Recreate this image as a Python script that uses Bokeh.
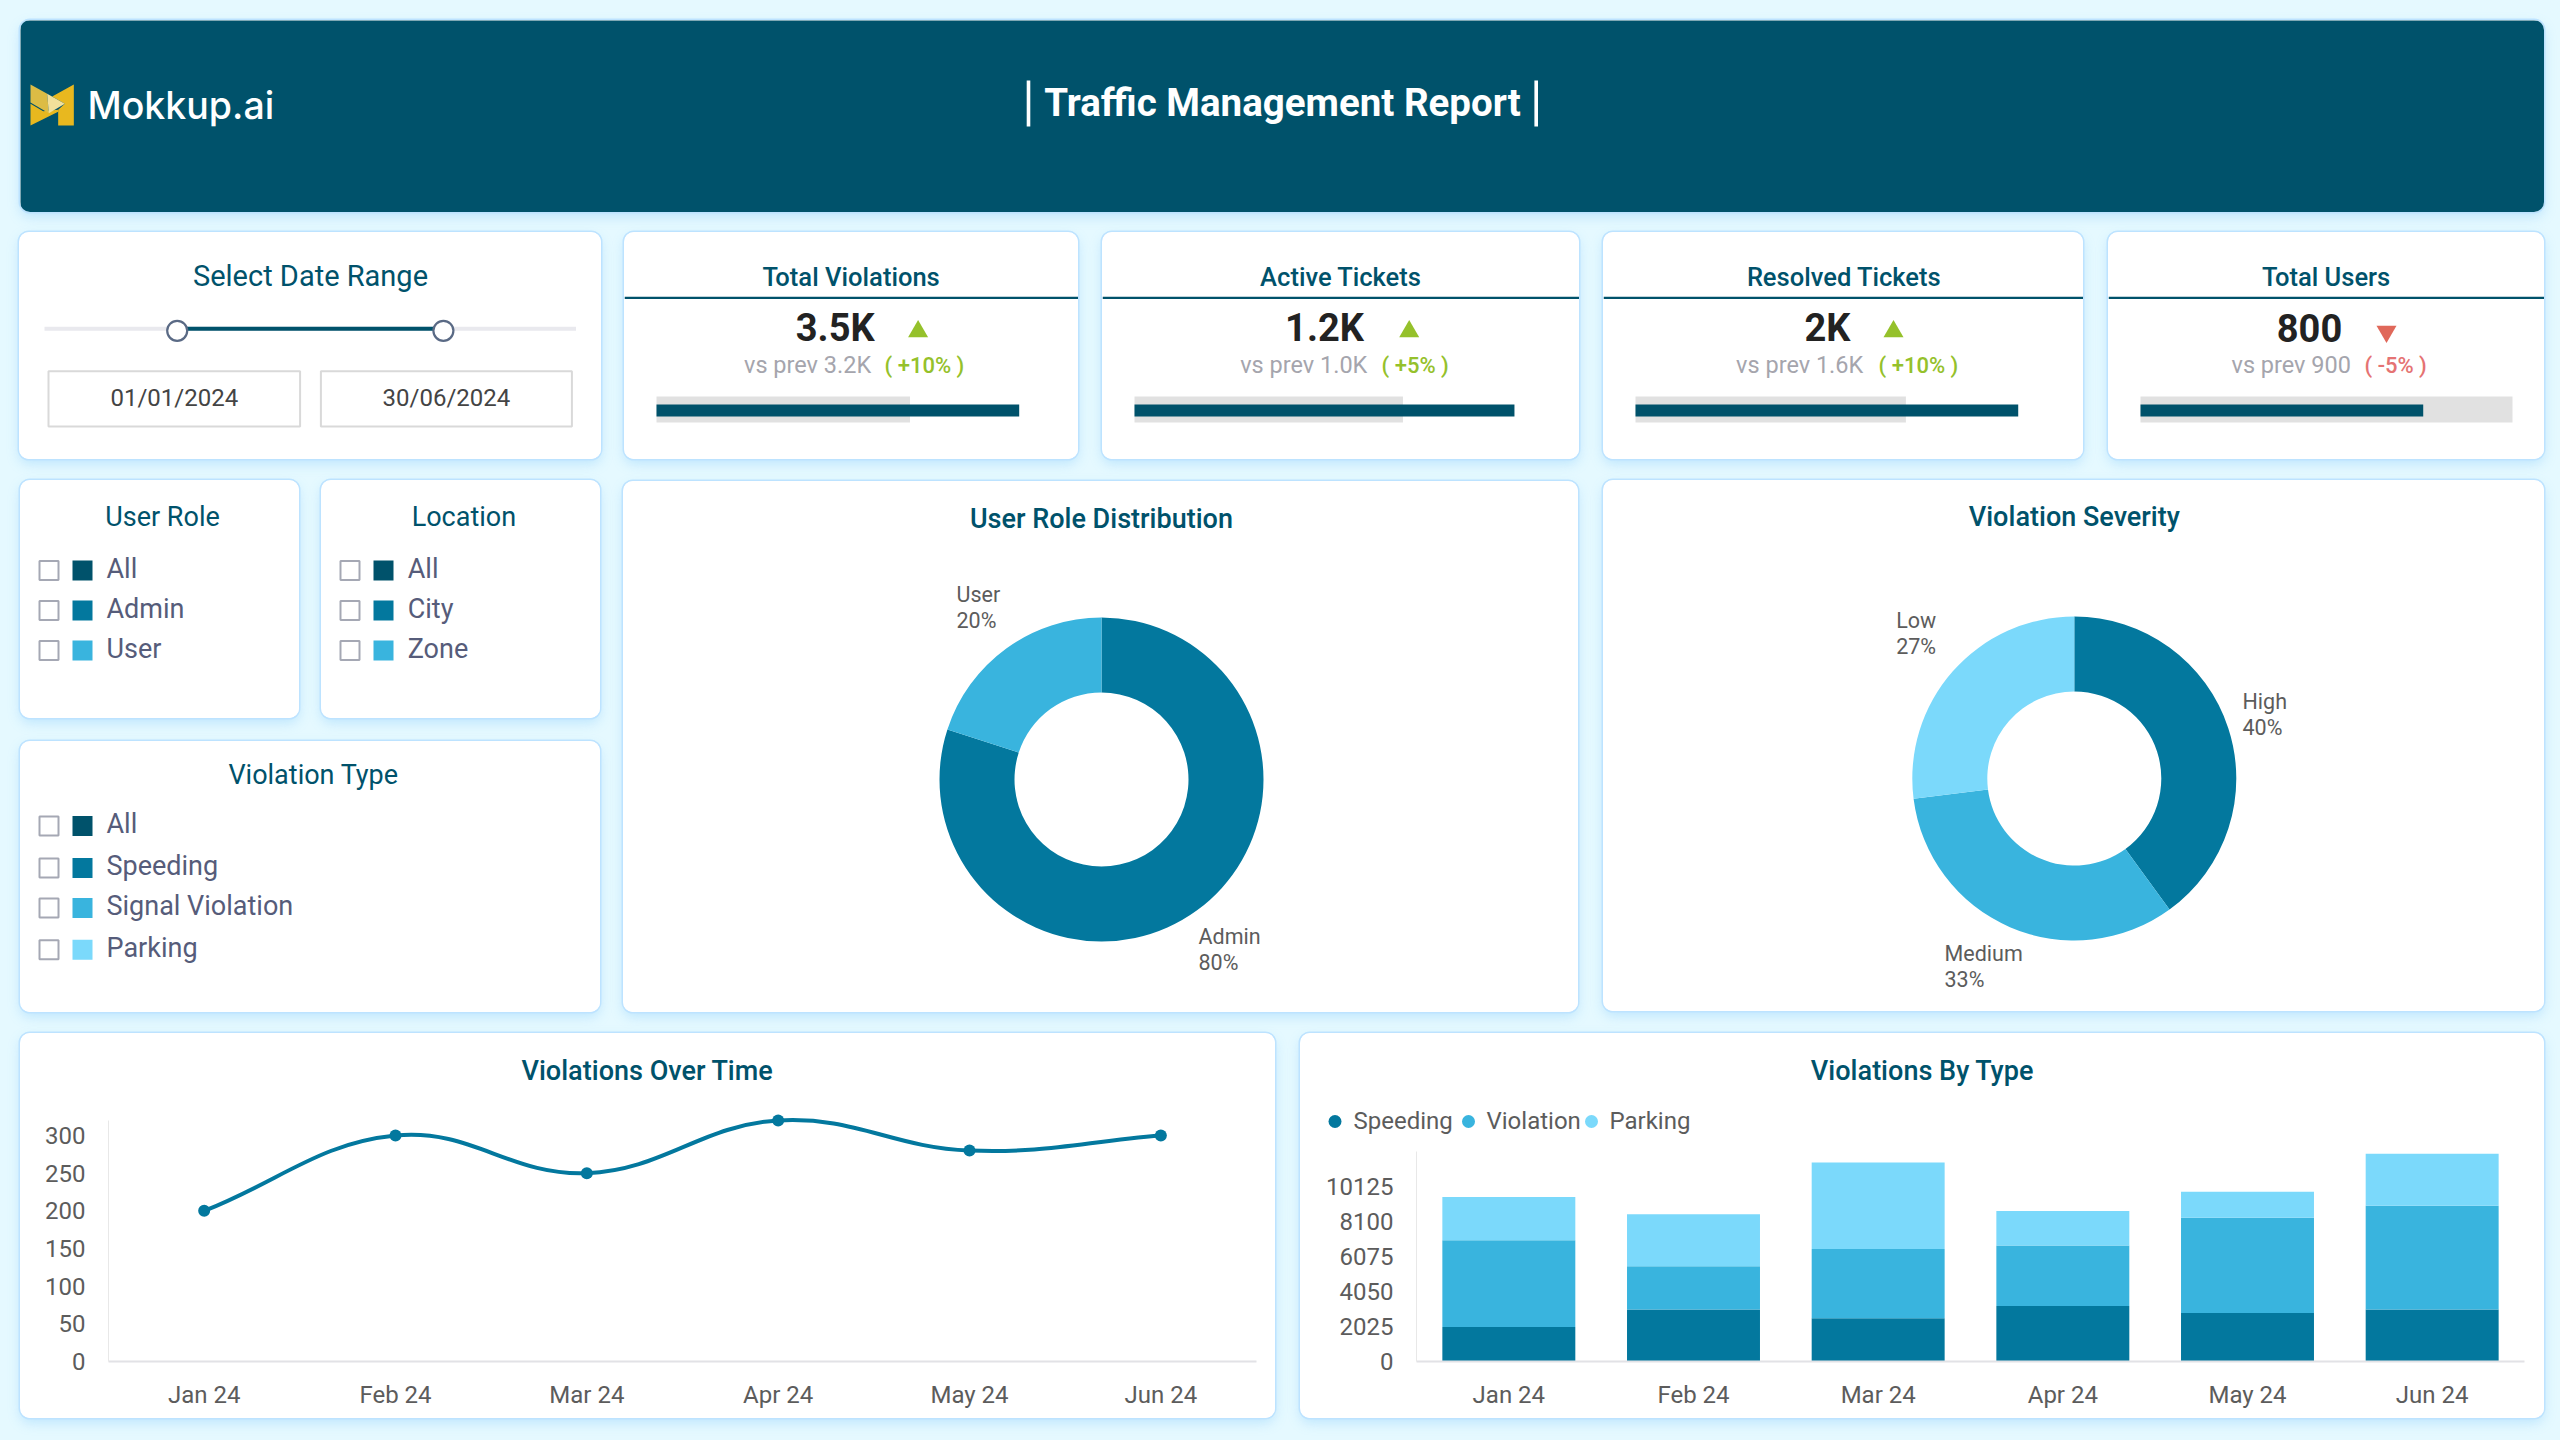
import numpy as np
from bokeh.embed import file_html
from bokeh.layouts import column, row
from bokeh.models import (CategoricalAxis, ColumnDataSource, FactorRange, FixedTicker, Label,
                          Range1d, LinearAxis)
from bokeh.plotting import figure
from bokeh.resources import INLINE

# ---------- data ----------
months = ["Jan 24", "Feb 24", "Mar 24", "Apr 24", "May 24", "Jun 24"]
violations_over_time = [200, 300, 250, 320, 280, 300]
over_time_ticks = [0, 50, 100, 150, 200, 250, 300]

speeding = [2000, 3000, 2500, 3200, 2800, 3000]
violation = [5000, 2500, 4000, 3500, 5500, 6000]
parking = [2500, 3000, 5000, 2000, 1500, 3000]
by_type_ticks = [0, 2025, 4050, 6075, 8100, 10125]
type_names = ["Speeding", "Violation", "Parking"]

role_names = ["Admin", "User"]
role_values = [80, 20]
severity_names = ["High", "Medium", "Low"]
severity_values = [40, 33, 27]

kpi_titles = ["Total Violations", "Active Tickets", "Resolved Tickets", "Total Users"]
kpi_values = ["3.5K", "1.2K", "2K", "800"]
kpi_prev_text = ["vs prev 3.2K", "vs prev 1.0K", "vs prev 1.6K", "vs prev 900"]
kpi_delta_text = ["( +10% )", "( +5% )", "( +10% )", "( -5% )"]
kpi_up = [True, True, True, False]
kpi_prev_bar = [65, 65, 65, 100]
kpi_now_bar = [93, 92, 92, 76]

filter_role = ["All", "Admin", "User"]
filter_location = ["All", "City", "Zone"]
filter_type = ["All", "Speeding", "Signal Violation", "Parking"]
date_from = "01/01/2024"
date_to = "30/06/2024"

# ---------- style ----------
DARK = "#00526b"
TEAL = "#03789e"
MID = "#39b4de"
LIGHT = "#7bd9fb"
PAGE = "#e5f9ff"
TITLE_FONT = "Roboto Medium"
FONT = "Roboto"
LABEL_COLOR = "#5c5c5c"
CARD = {"border-radius": "10px", "overflow": "hidden", "background-color": "white",
        "box-shadow": "0 0 0 1.5px #bde3ff, 0 5px 12px rgba(130,200,250,0.38)"}
BOXES = {}


def card(box, L=0, R=0, B=0, bg="white", x_range=None, y_range=None, styled=True):
    x0, y0, x1, y1 = box
    p = figure(width=x1 - x0, height=y1 - y0, output_backend="svg", toolbar_location=None,
               x_range=x_range if x_range is not None else Range1d(x0 + L, x1 - R),
               y_range=y_range if y_range is not None else Range1d(y1 - B, y0),
               x_axis_location=None, y_axis_location=None,
               min_border_left=L, min_border_right=R, min_border_top=0, min_border_bottom=B,
               background_fill_color=bg, border_fill_color=bg, outline_line_color=None,
               styles=dict(CARD) if styled else {})
    p.grid.visible = False
    if not isinstance(x_range, FactorRange):
        p.extra_x_ranges["px"] = Range1d(x0 + L, x1 - R)
        p.extra_y_ranges["px"] = Range1d(y1 - B, y0)
    BOXES[p.id] = box
    return p


def txt(p, x, y, s, size, color, align="left", font=FONT, style="normal"):
    p.add_layout(Label(x=x, y=y, text=s, x_range_name="px", y_range_name="px", text_font=font,
                       text_font_size=f"{size}px", text_color=color,
                       text_align=align, text_baseline="middle", text_font_style=style))


def box_(p, x0, y0, x1, y1, fill=None, line=None, lw=2):
    p.quad(left=[x0], right=[x1], top=[y0], bottom=[y1], x_range_name="px", y_range_name="px",
           fill_color=fill, line_color=line, line_width=lw, fill_alpha=1 if fill else 0)


# ---------- header ----------
header = card((20, 20, 2544, 212), bg=DARK)
lg = lambda pts: ([20 + a / 3 for a, _ in pts], [70 + b / 3 for _, b in pts])
for pts, col in [([(160, 42), (160, 165), (113, 165), (113, 118), (133, 100), (95, 78)], "#e8b81f"),
                 ([(30, 100), (68, 122), (113, 118), (113, 124), (30, 165)], "#e8b81f"),
                 ([(30, 42), (80, 70), (85, 128), (30, 96)], "#dcbc45"),
                 ([(80, 70), (133, 100), (85, 128)], "#f2e09a")]:
    xs, ys = lg(pts)
    header.patch(xs, ys, fill_color=col, line_color=None, x_range_name="px", y_range_name="px")
txt(header, 87, 105, "Mokkup.ai", 37.5, "white", font="Inter Medium")
txt(header, 1282, 102, "Traffic Management Report", 38.5, "white", "center", style="bold")
for bx in (1028, 1535.7):
    box_(header, bx - 1.8, 80, bx + 1.8, 126, fill="white")

# ---------- date range ----------
date_card = card((19, 232, 601, 459))
txt(date_card, 310, 275, "Select Date Range", 29, DARK, "center")
box_(date_card, 44, 326.3, 575.5, 330.3, fill="#e9e9ee")
box_(date_card, 186, 326.3, 434, 330.3, fill=DARK)
date_card.circle(x=[176.7, 442.9], y=[330.3, 330.3], radius=10, fill_color="white",
                 line_color="#5a6a85", line_width=2.2, x_range_name="px", y_range_name="px")
for bx0, bx1, s in [(48, 299.6, date_from), (320.4, 571.4, date_to)]:
    box_(date_card, bx0, 370.7, bx1, 426, line="#d9d9d9")
    txt(date_card, (bx0 + bx1) / 2, 397.5, s, 24, "#444444", "center")

# ---------- KPI cards ----------
kpi_boxes = [(624, 232, 1078, 459), (1102, 232, 1579, 459), (1603, 232, 2083, 459), (2108, 232, 2544, 459)]
kpi_layout = [  # title-x, value-x, tri-x, vs-x0, delta-x0
    (850.6, 834.7, 917.6, 743.5, 884),
    (1340.4, 1324, 1408.7, 1239.7, 1381),
    (1843.7, 1827, 1893, 1735.6, 1878),
    (2325.6, 2309, 2386, 2231, 2364),
]
kpi_cards = []
for i, bx in enumerate(kpi_boxes):
    x0, y0, x1, y1 = bx
    p = card(bx)
    tx, vx, trx, vsx, dx = kpi_layout[i]
    txt(p, tx, 276.5, kpi_titles[i], 25.5, DARK, "center", font=TITLE_FONT)
    box_(p, x0, 296.3, x1, 298.5, fill=DARK)
    txt(p, vx, 327, kpi_values[i], 38, "#222222", "center", style="bold")
    up = kpi_up[i]
    c = "#95c12b" if up else "#e0685a"
    p.scatter(x=[trx], y=[331], size=20, marker="triangle" if up else "inverted_triangle",
              fill_color=c, line_color=None, x_range_name="px", y_range_name="px")
    txt(p, vsx, 364.5, kpi_prev_text[i], 23.5, "#a5a5ad")
    txt(p, dx, 364.5, kpi_delta_text[i], 22, c if up else "#e57373", font=TITLE_FONT)
    left = x0 + 32
    track = (x1 - 32) - left
    p.extra_x_ranges["pct"] = Range1d((x0 - left) / track * 100, (x1 - left) / track * 100)
    p.hbar(y=[409], height=26, left=0, right=[kpi_prev_bar[i]], fill_color="#e1e1e1", line_color=None,
           x_range_name="pct", y_range_name="px")
    p.hbar(y=[410], height=12, left=0, right=[kpi_now_bar[i]], fill_color=DARK, line_color=None,
           x_range_name="pct", y_range_name="px")
    kpi_cards.append(p)


# ---------- filter cards ----------
def filter_card(box, title, title_x, title_y, options, rows, cbx, sqx, tx):
    p = card(box)
    txt(p, title_x, title_y, title, 27, DARK, "center")
    cols = [DARK, TEAL, MID, LIGHT]
    for opt, ry, c in zip(options, rows, cols):
        box_(p, cbx, ry - 9.5, cbx + 19, ry + 9.5, fill="white", line="#a5a8b4")
        box_(p, sqx, ry - 10, sqx + 20, ry + 10, fill=c)
        txt(p, tx - 0.8, ry - 1.6, opt, 27, "#565c7a")
    return p


role_card = filter_card((20, 480, 299, 718), "User Role", 162, 516.4, filter_role,
                        [570, 610, 650], 39, 72, 106.8)
loc_card = filter_card((321, 480, 600, 718), "Location", 463.4, 516.4, filter_location,
                       [570, 610, 650], 340, 373, 408)
type_card = filter_card((20, 741, 600, 1012), "Violation Type", 313, 774.6, filter_type,
                        [825.4, 867.5, 907.5, 949.3], 39, 72, 106.8)


# ---------- donuts ----------
def donut(box, title, cx, cy, names, values, colors, label_pos, title_y):
    p = card(box)
    txt(p, cx, title_y, title, 27, DARK, "center", font=TITLE_FONT)
    v = np.array(values, dtype=float)
    edges = np.pi / 2 - 2 * np.pi * np.concatenate([[0], np.cumsum(v)]) / v.sum()
    p.annular_wedge(x=[cx] * len(v), y=[cy] * len(v), inner_radius=87, outer_radius=162,
                    start_angle=edges[1:], end_angle=edges[:-1], fill_color=colors, line_color=None,
                    x_range_name="px", y_range_name="px")
    for name, val, (lx, ly) in zip(names, values, label_pos):
        txt(p, lx, ly, name, 21.5, LABEL_COLOR)
        txt(p, lx, ly + 26, f"{val}%", 21.5, LABEL_COLOR)
    return p


role_donut = donut((623, 481, 1578, 1012), "User Role Distribution", 1101, 779, role_names, role_values,
                   [TEAL, MID], [(1198, 936.4), (956, 594)], 518)
sev_donut = donut((1603, 480, 2544, 1011), "Violation Severity", 2073.8, 778, severity_names, severity_values,
                  [TEAL, MID, LIGHT], [(2242, 701), (1944, 953), (1895.7, 620)], 516.4)


def style_axes(p, ticks, bound_top):
    p.add_layout(CategoricalAxis(), "below")
    p.add_layout(LinearAxis(ticker=FixedTicker(ticks=ticks), bounds=(0, bound_top)), "left")
    for ax in list(p.xaxis) + list(p.yaxis):
        ax.major_tick_line_color = None
        ax.minor_tick_line_color = None
        ax.major_label_text_font = FONT
        ax.major_label_text_font_size = "24px"
        ax.major_label_text_color = LABEL_COLOR
    p.xaxis.axis_line_color = "#e2e2e6"
    p.xaxis.axis_line_width = 2
    p.xaxis.major_label_standoff = 13
    p.yaxis.axis_line_color = "#e8e8e8"
    p.yaxis.axis_line_width = 1
    p.yaxis.major_label_standoff = 17


# ---------- violations over time ----------
vot_head = card((20, 1033, 1275, 1101), styled=False)
txt(vot_head, 647, 1070, "Violations Over Time", 27, DARK, "center", font=TITLE_FONT)
y_top = 345.2
vot = card((20, 1101, 1275, 1418), L=88, R=19, B=57, styled=False,
           x_range=FactorRange(factors=months), y_range=Range1d(0, y_top))
style_axes(vot, over_time_ticks, 320)
pos = np.arange(len(months)) + 0.5
vals = np.array(violations_over_time, dtype=float)
tx_ = np.gradient(pos)
ty_ = np.concatenate([[vals[1] - vals[0]], (vals[2:] - vals[:-2]) / 2, [vals[-1] - vals[-2]]])
curve = ColumnDataSource(dict(x0=pos[:-1], y0=vals[:-1], x1=pos[1:], y1=vals[1:],
                              cx0=pos[:-1] + 0.4 * tx_[:-1], cy0=vals[:-1] + 0.4 * ty_[:-1],
                              cx1=pos[1:] - 0.4 * tx_[1:], cy1=vals[1:] - 0.4 * ty_[1:]))
vot.bezier(x0="x0", y0="y0", x1="x1", y1="y1", cx0="cx0", cy0="cy0", cx1="cx1", cy1="cy1",
           source=curve, line_color=TEAL, line_width=4)
vot.scatter(x=months, y=violations_over_time, size=12, fill_color=TEAL, line_color=None)

# ---------- violations by type ----------
bt_head = card((1300, 1033, 2544, 1140), styled=False)
txt(bt_head, 1922, 1070, "Violations By Type", 27, DARK, "center", font=TITLE_FONT)
for name, col, dot_x, text_x in zip(type_names, [TEAL, MID, LIGHT], (1334.5, 1468, 1591), (1353, 1486, 1609)):
    bt_head.scatter(x=[dot_x], y=[1121], size=13, marker="circle", fill_color=col, line_color=None,
                    x_range_name="px", y_range_name="px")
    txt(bt_head, text_x, 1120, name, 24, LABEL_COLOR)
bt = card((1300, 1140, 2544, 1418), L=116, R=20, B=57, styled=False,
          x_range=FactorRange(factors=months), y_range=Range1d(0, 12768))
style_axes(bt, by_type_ticks, 12150)
bt_src = ColumnDataSource(dict(month=months, Speeding=speeding, Violation=violation, Parking=parking))
bt.vbar_stack(type_names, x="month", width=0.72, color=[TEAL, MID, LIGHT], source=bt_src, line_color=None)


# ---------- page layout ----------
def place(items, top, start=0):
    prev = start
    for p in items:
        x0, y0, x1, y1 = BOXES[p.id]
        p.margin = (y0 - top, 0, 0, x0 - prev)
        prev = x1
    return items


place([header], 0)
r1 = row(*place([date_card] + kpi_cards, 212))
place([role_card, loc_card], 480)
place([type_card], 718)
left_col = column(row(role_card, loc_card), type_card)
place([role_donut, sev_donut], 480, start=600)
r2 = row(left_col, role_donut, sev_donut)
r2.margin = (480 - 459, 0, 0, 0)
vot_card = column(row(vot_head), vot, styles=dict(CARD), margin=(1033 - 1012, 0, 0, 20))
bt_card = column(row(bt_head), bt, styles=dict(CARD), margin=(1033 - 1012, 0, 0, 1300 - 1275))
r3 = row(vot_card, bt_card)
root = column(header, r1, r2, r3)

html = file_html(root, INLINE, "Traffic Management Report")
html = html.replace("<head>", f"<head><style>html,body{{background:{PAGE};}}</style>", 1)
open("out.html", "w").write(html)
